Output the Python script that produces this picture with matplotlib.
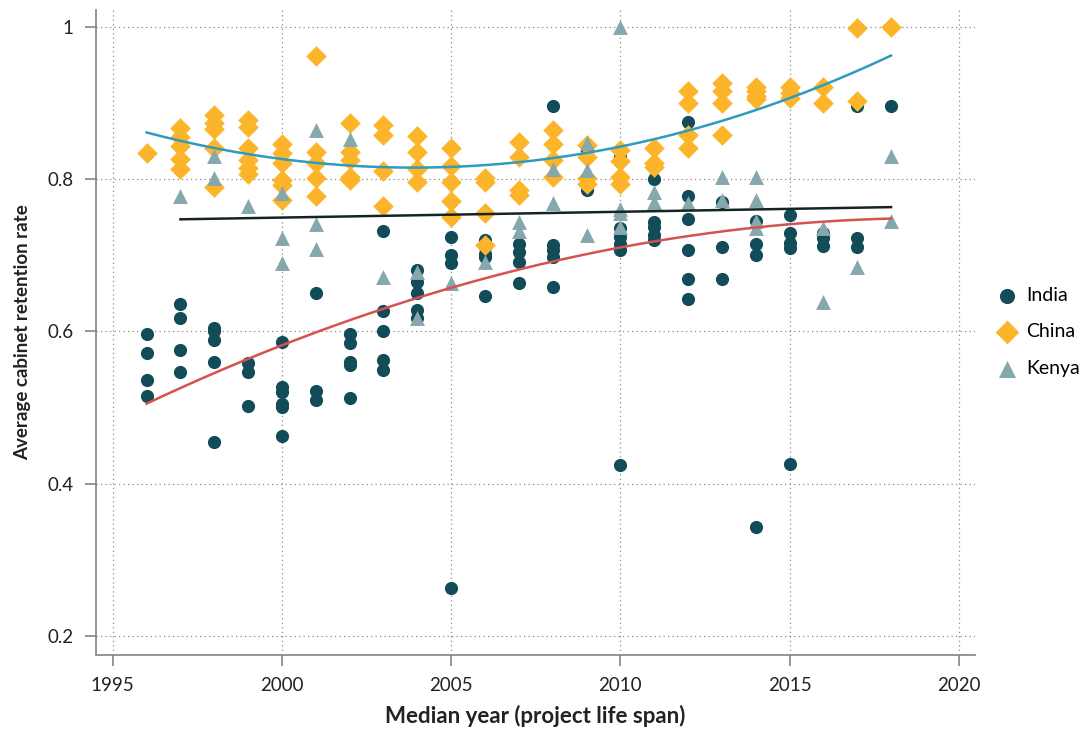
import matplotlib
matplotlib.use("Agg")
from matplotlib import pyplot as plt
import numpy as np

plt.rcParams['font.family'] = ['Lato', 'DejaVu Sans']

# India
india_year = [1996, 1996, 1996, 1996,
              1997, 1997, 1997, 1997,
              1998, 1998, 1998, 1998, 1998,
              1999, 1999, 1999,
              2000, 2000, 2000, 2000, 2000, 2000,
              2001, 2001, 2001,
              2002, 2002, 2002, 2002, 2002,
              2003, 2003, 2003, 2003, 2003,
              2004, 2004, 2004, 2004, 2004,
              2005, 2005, 2005, 2005,
              2006, 2006, 2006, 2006, 2006,
              2007, 2007, 2007, 2007,
              2008, 2008, 2008, 2008, 2008,
              2009, 2009,
              2010, 2010, 2010, 2010, 2010, 2010, 2010,
              2011, 2011, 2011, 2011, 2011,
              2012, 2012, 2012, 2012, 2012, 2012,
              2013, 2013, 2013,
              2014, 2014, 2014, 2014,
              2015, 2015, 2015, 2015, 2015,
              2016, 2016, 2016,
              2017, 2017, 2017,
              2018]
india_rate = [0.596, 0.571, 0.536, 0.515,
              0.636, 0.618, 0.576, 0.546,
              0.604, 0.600, 0.588, 0.560, 0.455,
              0.558, 0.546, 0.502,
              0.586, 0.527, 0.520, 0.504, 0.500, 0.462,
              0.650, 0.521, 0.510,
              0.596, 0.585, 0.560, 0.556, 0.512,
              0.732, 0.627, 0.600, 0.562, 0.549,
              0.680, 0.665, 0.650, 0.628, 0.618,
              0.724, 0.700, 0.689, 0.263,
              0.720, 0.711, 0.702, 0.698, 0.646,
              0.715, 0.704, 0.691, 0.664,
              0.896, 0.713, 0.707, 0.698, 0.658,
              0.838, 0.786,
              0.829, 0.803, 0.735, 0.724, 0.715, 0.707, 0.424,
              0.800, 0.744, 0.737, 0.726, 0.720,
              0.875, 0.777, 0.747, 0.707, 0.668, 0.643,
              0.770, 0.710, 0.668,
              0.745, 0.715, 0.700, 0.343,
              0.753, 0.729, 0.716, 0.709, 0.426,
              0.729, 0.723, 0.712,
              0.896, 0.723, 0.711,
              0.896]

# China
china_year = [1996,
              1997, 1997, 1997, 1997, 1997,
              1998, 1998, 1998, 1998, 1998,
              1999, 1999, 1999, 1999, 1999, 1999,
              2000, 2000, 2000, 2000, 2000, 2000,
              2001, 2001, 2001, 2001, 2001,
              2002, 2002, 2002, 2002, 2002,
              2003, 2003, 2003, 2003,
              2004, 2004, 2004, 2004,
              2005, 2005, 2005, 2005, 2005,
              2006, 2006, 2006, 2006,
              2007, 2007, 2007, 2007,
              2008, 2008, 2008, 2008,
              2009, 2009, 2009, 2009,
              2010, 2010, 2010, 2010,
              2011, 2011, 2011,
              2012, 2012, 2012, 2012,
              2013, 2013, 2013, 2013,
              2014, 2014, 2014, 2014,
              2015, 2015, 2015,
              2016, 2016,
              2017, 2017,
              2018]
china_rate = [0.834,
              0.867, 0.855, 0.843, 0.826, 0.813,
              0.884, 0.874, 0.865, 0.840, 0.790,
              0.878, 0.868, 0.841, 0.825, 0.815, 0.807,
              0.846, 0.834, 0.821, 0.799, 0.792, 0.772,
              0.962, 0.836, 0.821, 0.801, 0.777,
              0.873, 0.836, 0.825, 0.803, 0.799,
              0.871, 0.858, 0.810, 0.765,
              0.856, 0.836, 0.813, 0.796,
              0.840, 0.817, 0.796, 0.771, 0.750,
              0.801, 0.796, 0.755, 0.713,
              0.848, 0.829, 0.786, 0.779,
              0.864, 0.846, 0.825, 0.803,
              0.845, 0.829, 0.801, 0.793,
              0.838, 0.823, 0.803, 0.794,
              0.840, 0.821, 0.816,
              0.915, 0.900, 0.858, 0.840,
              0.926, 0.915, 0.900, 0.858,
              0.921, 0.916, 0.909, 0.905,
              0.921, 0.913, 0.906,
              0.921, 0.900,
              0.998, 0.902,
              1.0]

# Kenya
kenya_year = [1997, 1998, 1998, 1999,
              2000, 2000, 2000,
              2001, 2001, 2001,
              2002, 2003,
              2004, 2004, 2005, 2006,
              2007, 2007,
              2008, 2008,
              2009, 2009, 2009,
              2010, 2010, 2010, 2010,
              2011, 2011,
              2012, 2013, 2013,
              2014, 2014, 2014, 2014,
              2016, 2016, 2017,
              2018, 2018]
kenya_rate = [0.777, 0.830, 0.801, 0.765,
              0.781, 0.722, 0.689,
              0.864, 0.741, 0.708,
              0.852, 0.671,
              0.678, 0.617, 0.663, 0.691,
              0.744, 0.732,
              0.813, 0.769,
              0.847, 0.812, 0.726,
              1.0, 0.760, 0.755, 0.737,
              0.783, 0.770,
              0.768, 0.803, 0.773,
              0.803, 0.773, 0.745, 0.735,
              0.735, 0.639, 0.685,
              0.830, 0.745]

# fitted trend values at start, middle and end year
india_fit_year = [1996, 2007, 2018]
india_fit = [0.505, 0.681, 0.748]
china_fit_year = [1996, 2007, 2018]
china_fit = [0.861, 0.822, 0.962]
kenya_fit_year = [1997, 2018]
kenya_fit = [0.747, 0.763]

c_india = '#124c59'
c_china = '#fcb42a'
c_kenya = '#86a7ab'
grid_c = '#8a8a8a'

fig = plt.figure(figsize=(10.89, 7.29), dpi=100)
ax = fig.add_axes([0.088, 0.1015, 0.807, 0.885])

ax.scatter(india_year, india_rate, s=90, marker='o', color=c_india, label='India', zorder=3, linewidths=0)
ax.scatter(china_year, china_rate, s=110, marker='D', color=c_china, label='China', zorder=3, linewidths=0)
ax.scatter(kenya_year, kenya_rate, s=115, marker='^', color=c_kenya, label='Kenya', zorder=3, linewidths=0)


def trend(years, vals):
    deg = len(years) - 1
    xs = np.linspace(years[0], years[-1], 200)
    return xs, np.polyval(np.polyfit(years, vals, deg), xs)


xs, ys = trend(india_fit_year, india_fit)
ax.plot(xs, ys, color='#d4524f', lw=1.8, zorder=4)
xs, ys = trend(china_fit_year, china_fit)
ax.plot(xs, ys, color='#2f9bbd', lw=1.8, zorder=4)
xs, ys = trend(kenya_fit_year, kenya_fit)
ax.plot(xs, ys, color='#142424', lw=1.8, zorder=4)

ax.set_xlim(1994.5, 2020.47)
ax.set_ylim(0.175, 1.022)
ax.set_xticks([1995, 2000, 2005, 2010, 2015, 2020])
ax.set_yticks([0.2, 0.4, 0.6, 0.8, 1.0])
ax.set_yticklabels(['0.2', '0.4', '0.6', '0.8', '1'])
ax.grid(True, color=grid_c, linestyle=(0, (1, 2.6)), linewidth=0.9, zorder=0)

for s in ['top', 'right']:
    ax.spines[s].set_visible(False)
for s in ['left', 'bottom']:
    ax.spines[s].set_color('#8c8c8c')
    ax.spines[s].set_linewidth(1.3)
ax.tick_params(axis='both', colors='#8c8c8c', length=8, width=1.3, labelsize=13.5, labelcolor='#222222', pad=8)

ax.set_xlabel('Median year (project life span)', fontsize=16, fontweight='bold', color='#222222', labelpad=8)
ax.set_ylabel('Average cabinet retention rate', fontsize=13.5, fontweight='bold', color='#222222', labelpad=12)

fig.legend(loc='center left', bbox_to_anchor=(0.9, 0.545), frameon=False, fontsize=14,
           handletextpad=0.45, handlelength=1.0, labelspacing=1.0, markerscale=1.15)

fig.savefig('out.png', dpi=100)
